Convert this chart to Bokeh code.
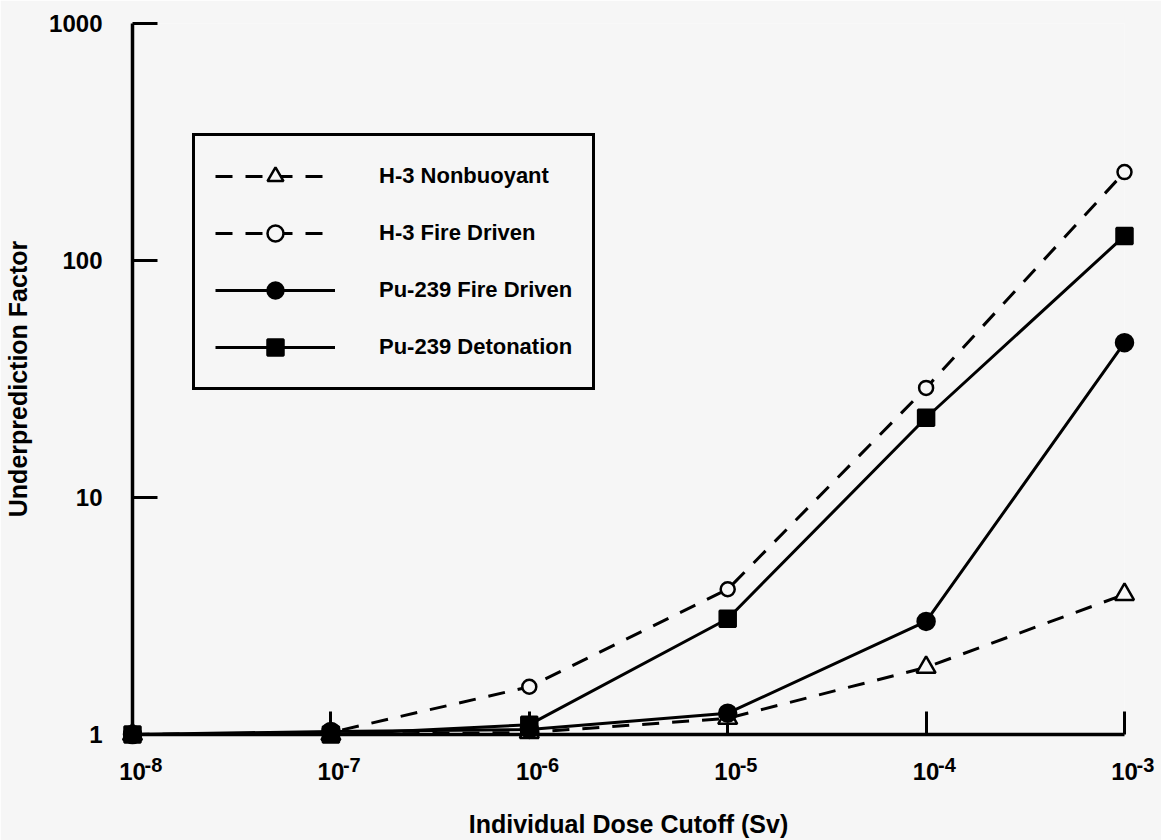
from bokeh.plotting import figure
from bokeh.models import FixedTicker, Legend, LegendItem
from bokeh.core.properties import value
from bokeh.embed import file_html
from bokeh.resources import INLINE

# ---- data ----
dose_cutoff = [1e-8, 1e-7, 1e-6, 1e-5, 1e-4, 1e-3]
h3_nonbuoyant = [1.0, 1.0, 1.02, 1.17, 1.92, 3.9]
h3_fire_driven = [1.0, 1.02, 1.59, 4.1, 29.0, 236.0]
pu239_fire_driven = [1.0, 1.03, 1.05, 1.23, 3.0, 45.0]
pu239_detonation = [1.0, 1.0, 1.1, 3.08, 21.7, 127.0]

x_ticks = [1e-8, 1e-7, 1e-6, 1e-5, 1e-4, 1e-3]
x_tick_base = ["10", "10", "10", "10", "10", "10"]
x_tick_exponents = ["-8", "-7", "-6", "-5", "-4", "-3"]
y_ticks = [1, 10, 100, 1000]
y_tick_labels = ["1", "10", "100", "1000"]

series_names = ["H-3 Nonbuoyant", "H-3 Fire Driven", "Pu-239 Fire Driven", "Pu-239 Detonation"]

BG = "#f6f6f6"
FONT = "Liberation Sans"

p = figure(width=1161, height=840, x_axis_type="log", y_axis_type="log",
           x_range=(1e-8, 1e-3), y_range=(1, 1000),
           output_backend="svg", toolbar_location=None,
           min_border_left=132, min_border_right=37,
           min_border_top=23, min_border_bottom=105)
p.background_fill_color = BG
p.border_fill_color = BG
p.outline_line_color = None
p.xgrid.visible = False
p.ygrid.visible = False

styles = [
    (h3_nonbuoyant, "17 13", "triangle", BG, 19),
    (h3_fire_driven, "17 13", "circle", BG, 14),
    (pu239_fire_driven, "solid", "circle", "black", 17),
    (pu239_detonation, "solid", "square", "black", 16),
]

items = []
for name, (vals, dash, marker, fill, size) in zip(series_names, styles):
    ln = p.line(dose_cutoff, vals, line_color="black", line_width=3, line_dash=dash)
    sc = p.scatter(dose_cutoff, vals, marker=marker, size=size, fill_color=fill,
                   line_color="black", line_width=2.5)
    ln.level = "overlay"
    sc.level = "overlay"
    items.append(LegendItem(label=name, renderers=[ln, sc]))

legend = Legend(items=items, location=(60, 344))
legend.label_text_font = FONT
legend.label_text_font_style = "bold"
legend.label_text_font_size = "22px"
legend.label_text_color = "black"
legend.glyph_width = 120
legend.glyph_height = 40
legend.label_height = 40
legend.spacing = 17
legend.padding = 20
legend.label_standoff = 44
legend.border_line_color = "black"
legend.border_line_alpha = 1.0
legend.border_line_width = 3
legend.background_fill_color = BG
legend.background_fill_alpha = 1.0
p.add_layout(legend, "center")

# axes
xa = p.xaxis[0]
xa.ticker = FixedTicker(ticks=x_ticks, minor_ticks=[])
xa.major_label_overrides = {t: l for t, l in zip(x_ticks, x_tick_base)}
xa.axis_label = "Individual Dose Cutoff (Sv)"
xa.major_label_standoff = 28
xa.axis_label_standoff = 27

# superscript exponents of the x tick labels
sup = p.text(x=x_ticks, y=[1] * len(x_ticks), text=x_tick_exponents,
             x_offset=12, y_offset=30, text_align="left", text_baseline="alphabetic",
             text_font=value(FONT), text_font_size="20px", text_font_style="bold",
             text_color="black")
sup.level = "overlay"

ya = p.yaxis[0]
ya.ticker = FixedTicker(ticks=y_ticks, minor_ticks=[])
ya.major_label_overrides = {t: l for t, l in zip(y_ticks, y_tick_labels)}
ya.axis_label = "Underprediction Factor"
ya.major_label_standoff = 30
ya.axis_label_standoff = 14

for ax, tick_in in ((xa, 23), (ya, 25)):
    ax.axis_line_color = "black"
    ax.axis_line_width = 3.5
    ax.major_tick_in = tick_in
    ax.major_tick_out = 0
    ax.major_tick_line_width = 3
    ax.major_tick_line_color = "black"
    ax.minor_tick_in = 0
    ax.minor_tick_out = 0
    ax.major_label_text_font = FONT
    ax.major_label_text_font_style = "bold"
    ax.major_label_text_font_size = "24px"
    ax.major_label_text_color = "black"
    ax.axis_label_text_font = FONT
    ax.axis_label_text_font_style = "bold"
    ax.axis_label_text_font_size = "25px"
    ax.axis_label_text_color = "black"

ya.major_label_orientation = "horizontal"

open("out.html", "w").write(file_html(p, INLINE))
